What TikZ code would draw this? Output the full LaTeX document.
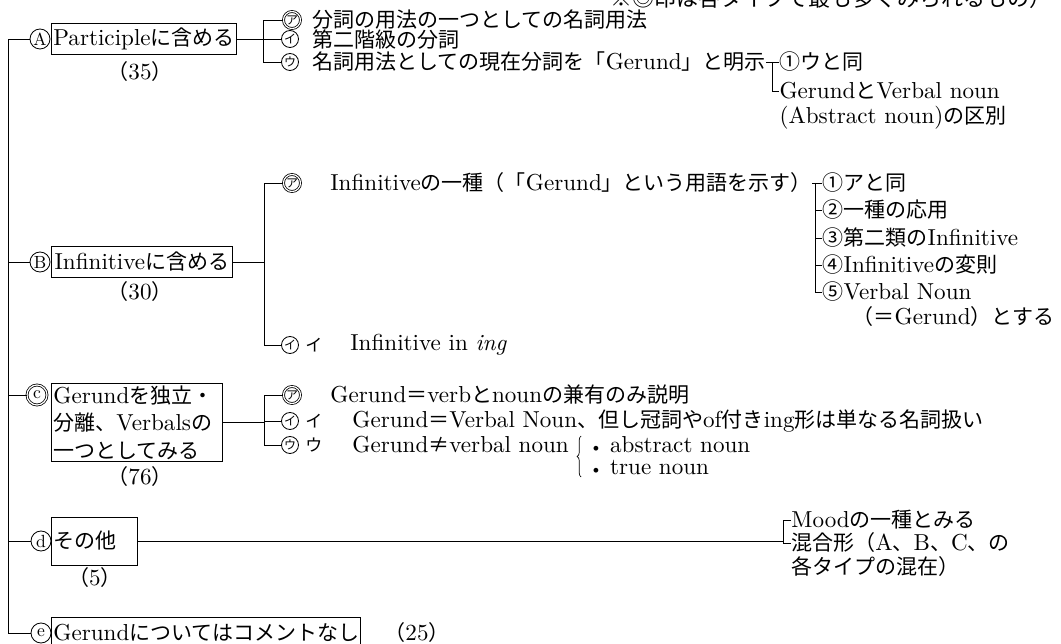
\documentclass[tikz,border=0pt]{standalone}
\usepackage{fontspec}
\setmainfont{lmroman10}[Extension=.otf, UprightFont=*-regular, ItalicFont=*-italic, BoldFont=*-bold, BoldItalicFont=*-bolditalic, Scale=1.1]
\usetikzlibrary{calc,decorations.pathreplacing}
\newfontfamily\jpfont{Noto Sans CJK JP}
\XeTeXinterchartokenstate=1
\newXeTeXintercharclass\JPclass
\newcount\jpc
\def\jprange#1#2{\jpc=#1\relax\loop\XeTeXcharclass\jpc=\JPclass\relax\ifnum\jpc<#2\relax\advance\jpc by 1\repeat}
\jprange{"3000}{"30FF}
\jprange{"3200}{"32FF}
\jprange{"4E00}{"9FFF}
\jprange{"FF00}{"FFEF}
\jprange{"2460}{"24FF}
\jprange{"25A0}{"25FF}
\XeTeXcharclass"203B=\JPclass
\XeTeXcharclass"2260=\JPclass
\XeTeXinterchartoks 0 \JPclass = {\jpfont}
\XeTeXinterchartoks 4095 \JPclass = {\jpfont}
\XeTeXinterchartoks \JPclass 0 = {\rmfamily}
\XeTeXinterchartoks \JPclass 4095 = {\rmfamily}
\tikzset{
  txt/.style={anchor=west, inner sep=0pt},
  ktxt/.style={anchor=west, inner sep=0pt, font=\fontsize{17}{17}\selectfont},
  num/.style={anchor=center, inner sep=0pt},
  box/.style={draw, anchor=west, inner xsep=2pt, inner ysep=0pt},
  circ/.style={circle, draw, inner sep=0pt, minimum size=20pt, font=\fontsize{16}{16}\selectfont},
  kcirc/.style={circle, draw, inner sep=0pt, minimum size=17pt, font=\fontsize{12}{12}\selectfont},
  dbl/.style={double, double distance=1.2pt},
}
\newcommand\bulletmark{{\fontsize{15}{15}\selectfont\textbullet}}
\begin{document}
\begin{tikzpicture}[x=1pt, y=-1pt, line width=0.8pt, font=\fontsize{21}{27}\selectfont]
\useasboundingbox (0,0) rectangle (1061,644);
\coordinate (trunk) at (8,0);
% header (cut off at top, as in the reference)
\node[anchor=east, inner sep=0pt, font=\fontsize{22}{27}\selectfont] (hdr) at (1052,-2) {※◎印は各タイプで最も多くみられるもの）};
% ---------- A
\node[circ] (cA) at (40,39) {A};
\node[box, minimum width=181pt, minimum height=31pt] (bA) at (51,39) {Participleに含める};
\node[num] (nA) at (140,72) {（35）};
\coordinate (brA) at (263,0);
\node[kcirc,dbl] (a1) at (292,20) {ア};
\node[kcirc] (a2) at (290,39) {イ};
\node[kcirc] (a3) at (290,62) {ウ};
\node[txt] (ta1) at (312,20) {分詞の用法の一つとしての名詞用法};
\node[txt] (ta2) at (312,40) {第二階級の分詞};
\node[txt] (ta3) at (312,62) {名詞用法としての現在分詞を「Gerund」と明示};
\draw (bA.east) -- (a2.west);
\draw (a1.west) -- (a1.west -| brA) |- (a3.west);
\coordinate (brA3) at ($(ta3.east)+(6,0)$);
\node[txt] (ta31) at ($(brA3)+(7,0)$) {①ウと同};
\node[txt] (ta32) at ($(brA3)+(7,29)$) {GerundとVerbal noun};
\node[txt] (ta33) at ($(brA3)+(7,56)$) {(Abstract noun)の区別};
\draw (ta3.east) -- (ta31.west);
\draw (ta31.west -| brA3) |- (ta32.west);
% ---------- B
\node[circ] (cB) at (40,262) {B};
\node[box, minimum width=181pt, minimum height=31pt] (bB) at (51,262) {Infinitiveに含める};
\node[num] (nB) at (140,292) {（30）};
\coordinate (brB) at (264,0);
\node[kcirc,dbl] (b1) at (292,183) {ア};
\node[kcirc] (b2) at (290,345) {イ};
\node[txt] (tb1) at (330,183) {Infinitiveの一種（「Gerund」という用語を示す）};
\node[ktxt] (tb2k) at (305,345) {イ};
\node[txt] (tb2) at (350,345) {Infinitive in \textit{ing}};
\draw (bB.east) -- (bB.east -| brB);
\draw (b1.west) -- (b1.west -| brB) |- (b2.west);
\coordinate (brB1) at ($(tb1.east)+(3,0)$);
\node[txt] (tb11) at ($(brB1)+(7,0)$) {①アと同};
\node[txt] (tb12) at ($(brB1)+(7,27)$) {②一種の応用};
\node[txt] (tb13) at ($(brB1)+(7,55)$) {③第二類のInfinitive};
\node[txt] (tb14) at ($(brB1)+(7,82)$) {④Infinitiveの変則};
\node[txt] (tb15) at ($(brB1)+(7,109)$) {⑤Verbal Noun};
\node[txt] (tb16) at ($(tb15.west)+(30,25)$) {（＝Gerund）とする};
\draw (tb1.east) -- (tb11.west);
\draw (tb11.west -| brB1) |- (tb15.west);
\draw (tb12.west -| brB1) -- (tb12.west);
\draw (tb13.west -| brB1) -- (tb13.west);
\draw (tb14.west -| brB1) -- (tb14.west);
% ---------- C
\node[circ,dbl] (cC) at (37,395) {c};
\node[box, anchor=north west, text width=167pt, align=left, inner ysep=2pt, font=\fontsize{21}{27.5}\selectfont] (bC) at (51,383) {Gerundを独立・\\分離、Verbalsの\\一つとしてみる};
\node[num] (nC) at (140,477) {（76）};
\coordinate (brC) at (264,0);
\node[kcirc,dbl] (c1) at (292,395) {ア};
\node[kcirc] (c2) at (290,421) {イ};
\node[kcirc] (c3) at (290,445) {ウ};
\node[txt] (tc1) at (330,395) {Gerund＝verbとnounの兼有のみ説明};
\node[ktxt] (tc2k) at (305,421) {イ};
\node[txt] (tc2) at (352,421) {Gerund＝Verbal Noun、但し冠詞やof付きing形は単なる名詞扱い};
\node[ktxt] (tc3k) at (305,445) {ウ};
\node[txt] (tc3) at (352,445) {Gerund≠verbal noun};
\draw (bC.east) -- (bC.east -| brC);
\draw (c1.west) -- (c1.west -| brC) |- (c3.west);
\draw (c2.west -| brC) -- (c2.west);
\coordinate (brc) at ($(tc3.east)+(12,0)$);
\draw[line width=0.7pt, decorate, decoration={brace, amplitude=4pt}] ($(brc)+(0,32)$) -- ($(brc)+(0,-9)$);
\node[txt] (tc31) at ($(brc)+(8,0)$) {\bulletmark\ abstract noun};
\node[txt] (tc32) at ($(brc)+(8,23)$) {\bulletmark\ true noun};
% ---------- D
\node[circ] (cD) at (41,541) {d};
\node[box, text width=82pt, align=left, minimum height=48pt] (bD) at (51,541) {その他};
\node[num] (nD) at (95,578) {（5）};
\coordinate (brD) at (783,0);
\node[txt] (td1) at (791,520) {Moodの一種とみる};
\node[txt] (td2) at (791,543) {混合形（A、B、C、の};
\node[txt] (td3) at (791,567) {各タイプの混在）};
\draw (bD.east) -- (bD.east -| brD);
\draw (td1.west) -- (td1.west -| brD) |- (td2.west);
% ---------- E
\node[circ] (cE) at (41,633) {e};
\node[box, text width=305pt, align=left, minimum height=32pt] (bE) at (51,633) {Gerundについてはコメントなし};
\node[num] (nE) at (417,633) {（25）};
% trunk
\draw (cA.west) -- (cA.west -| trunk) |- (cE.west);
\draw (cB.west) -- (cB.west -| trunk);
\draw (cC.west) -- (cC.west -| trunk);
\draw (cD.west) -- (cD.west -| trunk);
\end{tikzpicture}
\end{document}
